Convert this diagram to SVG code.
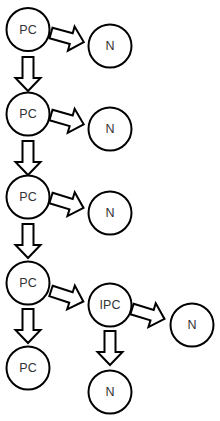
<svg xmlns="http://www.w3.org/2000/svg" width="220" height="421" viewBox="0 0 220 421">
<style>
.n circle{fill:#fff;stroke:#000;stroke-width:2}
.n text{font-family:"Liberation Sans",Arial,sans-serif;font-size:12.5px;fill:#333;text-anchor:middle;dominant-baseline:central}
.a{fill:#fff;stroke:#000;stroke-width:2;stroke-linejoin:miter}
</style>
<defs>
<path id="fat" d="M0,-5.5 H21 V-12.5 L34,0 L21,12.5 V5.5 H0 Z"/>
</defs>
<rect width="220" height="421" fill="#fff"/>
<g id="connectors">
<use href="#fat" class="a" transform="translate(28,57) rotate(90)"/>
<use href="#fat" class="a" transform="translate(28,141) rotate(90)"/>
<use href="#fat" class="a" transform="translate(28,224) rotate(90)"/>
<use href="#fat" class="a" transform="translate(28,309) rotate(90)"/>
<use href="#fat" class="a" transform="translate(110,331) rotate(90)"/>
<use href="#fat" class="a" transform="translate(51,33) rotate(15.5)"/>
<use href="#fat" class="a" transform="translate(51,115) rotate(16)"/>
<use href="#fat" class="a" transform="translate(51,198) rotate(17)"/>
<use href="#fat" class="a" transform="translate(51,291) rotate(18)"/>
<use href="#fat" class="a" transform="translate(132,309) rotate(17)"/>
</g>
<g id="pc1" class="n"><circle cx="28" cy="29.5" r="21.5"/><text x="28" y="29.5">PC</text></g>
<g id="n1" class="n"><circle cx="110" cy="46" r="21.5"/><text x="110" y="46">N</text></g>
<g id="pc2" class="n"><circle cx="28" cy="114" r="21.5"/><text x="28" y="114">PC</text></g>
<g id="n2" class="n"><circle cx="110" cy="129" r="21.5"/><text x="110" y="129">N</text></g>
<g id="pc3" class="n"><circle cx="28" cy="197" r="21.5"/><text x="28" y="197">PC</text></g>
<g id="n3" class="n"><circle cx="110" cy="213" r="21.5"/><text x="110" y="213">N</text></g>
<g id="pc4" class="n"><circle cx="28" cy="283" r="21.5"/><text x="28" y="283">PC</text></g>
<g id="ipc" class="n"><circle cx="110" cy="305" r="21.5"/><text x="110" y="305">IPC</text></g>
<g id="n4" class="n"><circle cx="192" cy="325" r="21.5"/><text x="192" y="325">N</text></g>
<g id="pc5" class="n"><circle cx="28" cy="368" r="21.5"/><text x="28" y="368">PC</text></g>
<g id="n5" class="n"><circle cx="110" cy="392" r="21.5"/><text x="110" y="392">N</text></g>
</svg>
